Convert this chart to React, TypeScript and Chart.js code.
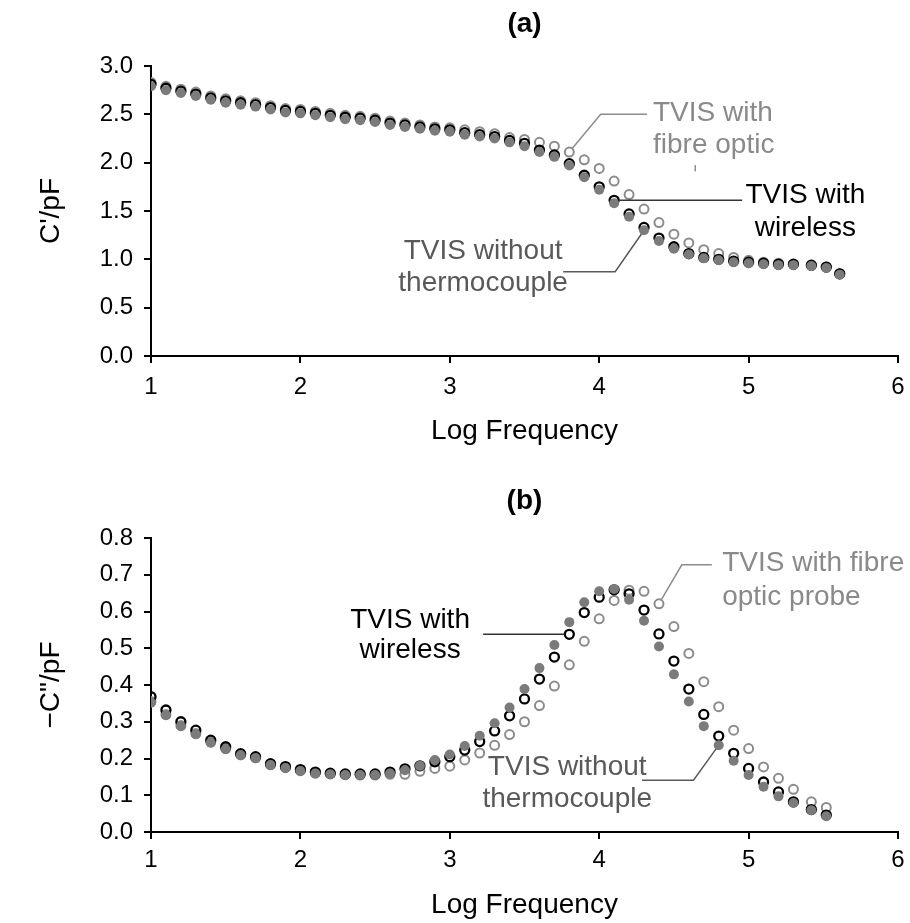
import React, { useEffect, useRef } from 'react';
import { Chart, registerables } from 'chart.js';

Chart.register(...registerables);

const FONT = '"Liberation Sans", Arial, Helvetica, sans-serif';

// ---- (a) real capacitance C' ----
const logFreqA = [
  1.0, 1.1, 1.2, 1.3, 1.4, 1.5, 1.6, 1.7, 1.8, 1.9,
  2.0, 2.1, 2.2, 2.3, 2.4, 2.5, 2.6, 2.7, 2.8, 2.9,
  3.0, 3.1, 3.2, 3.3, 3.4, 3.5, 3.6, 3.7, 3.8, 3.9,
  4.0, 4.1, 4.2, 4.3, 4.4, 4.5, 4.6, 4.7, 4.8, 4.9,
  5.0, 5.1, 5.2, 5.3, 5.42, 5.52, 5.61,
];
const cRealWithout = [
  2.79, 2.75, 2.72, 2.69, 2.65, 2.62, 2.60, 2.58, 2.55, 2.52,
  2.51, 2.49, 2.47, 2.45, 2.44, 2.42, 2.39, 2.37, 2.35, 2.33,
  2.32, 2.29, 2.27, 2.25, 2.21, 2.17, 2.11, 2.06, 1.97, 1.85,
  1.72, 1.58, 1.44, 1.30, 1.19, 1.11, 1.05, 1.01, 0.99, 0.97,
  0.96, 0.95, 0.94, 0.94, 0.93, 0.91, 0.84,
];
const cRealWireless = [
  2.81, 2.77, 2.74, 2.71, 2.67, 2.64, 2.62, 2.60, 2.57, 2.54,
  2.53, 2.51, 2.49, 2.47, 2.46, 2.44, 2.41, 2.39, 2.37, 2.35,
  2.34, 2.31, 2.29, 2.27, 2.23, 2.20, 2.13, 2.08, 1.99, 1.87,
  1.75, 1.61, 1.47, 1.33, 1.22, 1.13, 1.06, 1.02, 1.00, 0.98,
  0.97, 0.96, 0.95, 0.95, 0.94, 0.92, 0.85,
];
const cRealFibre = [
  2.83, 2.79, 2.76, 2.73, 2.69, 2.66, 2.64, 2.62, 2.59, 2.56,
  2.55, 2.53, 2.51, 2.49, 2.48, 2.46, 2.43, 2.41, 2.39, 2.37,
  2.36, 2.34, 2.32, 2.30, 2.26, 2.24, 2.21, 2.17, 2.11, 2.03,
  1.94, 1.81, 1.67, 1.52, 1.38, 1.26, 1.17, 1.10, 1.06, 1.02,
  0.99, 0.97, 0.96, 0.95, 0.94, 0.92, 0.85,
];

// ---- (b) imaginary capacitance -C'' ----
const logFreqB = [
  1.0, 1.1, 1.2, 1.3, 1.4, 1.5, 1.6, 1.7, 1.8, 1.9,
  2.0, 2.1, 2.2, 2.3, 2.4, 2.5, 2.6, 2.7, 2.8, 2.9,
  3.0, 3.1, 3.2, 3.3, 3.4, 3.5, 3.6, 3.7, 3.8, 3.9,
  4.0, 4.1, 4.2, 4.3, 4.4, 4.5, 4.6, 4.7, 4.8, 4.9,
  5.0, 5.1, 5.2, 5.3, 5.42, 5.52,
];
const cImagWithout = [
  0.352, 0.318, 0.288, 0.266, 0.243, 0.225, 0.209, 0.201, 0.182, 0.174,
  0.166, 0.159, 0.157, 0.155, 0.155, 0.155, 0.159, 0.168, 0.180, 0.196,
  0.211, 0.234, 0.262, 0.296, 0.339, 0.389, 0.446, 0.509, 0.571, 0.625,
  0.655, 0.661, 0.632, 0.575, 0.505, 0.429, 0.355, 0.288, 0.236, 0.194,
  0.155, 0.123, 0.097, 0.079, 0.059, 0.043,
];
const cImagWireless = [
  0.368, 0.332, 0.300, 0.277, 0.250, 0.232, 0.213, 0.205, 0.186, 0.178,
  0.170, 0.163, 0.160, 0.158, 0.158, 0.158, 0.163, 0.172, 0.180, 0.191,
  0.205, 0.223, 0.246, 0.275, 0.316, 0.362, 0.416, 0.476, 0.538, 0.597,
  0.639, 0.659, 0.648, 0.604, 0.539, 0.465, 0.389, 0.320, 0.261, 0.214,
  0.173, 0.136, 0.109, 0.082, 0.061, 0.046,
];
const cImagFibre = [
  0.355, 0.320, 0.290, 0.268, 0.245, 0.227, 0.210, 0.202, 0.183, 0.175,
  0.167, 0.160, 0.158, 0.156, 0.155, 0.155, 0.157, 0.157, 0.165, 0.173,
  0.179, 0.196, 0.215, 0.236, 0.265, 0.300, 0.344, 0.397, 0.455, 0.519,
  0.580, 0.630, 0.658, 0.655, 0.621, 0.559, 0.486, 0.409, 0.341, 0.277,
  0.227, 0.177, 0.146, 0.116, 0.082, 0.067,
];

const GREY_DOT = '#7b7b7b';
const GREY_RING = '#8c8c8c';
const GREY_TEXT = '#8a8a8a';
const DARK_TEXT = '#595959';

type Note = {
  lines: string[];
  x: number;
  y: number;
  gap: number;
  align: CanvasTextAlign;
  color: string;
  lineColor: string;
  path: [number, number][];
  target?: [number, number];
};

type PanelCfg = {
  title: string;
  titleY: number;
  yTitle: string;
  yMax: number;
  yStep: number;
  height: number;
  plotTop: number;
  plotBottom: number;
  xTickPad: number;
  xTitlePad: number;
  x: number[];
  without: number[];
  wireless: number[];
  fibre: number[];
  notes: Note[];
};

// Panel heading plus the callout labels and their leader lines.
const panelDecor = {
  id: 'panelDecor',
  afterDatasetsDraw(chart: any, _args: any, opts: any) {
    const { ctx, chartArea, scales } = chart;
    const px = (v: number) => scales.x.getPixelForValue(v);
    const py = (v: number) => scales.y.getPixelForValue(v);
    ctx.save();
    ctx.font = `bold 28px ${FONT}`;
    ctx.fillStyle = '#000';
    ctx.textAlign = 'center';
    ctx.textBaseline = 'middle';
    ctx.fillText(opts.title, (chartArea.left + chartArea.right) / 2, opts.titleY);

    for (const n of opts.notes as Note[]) {
      const pts = n.path.map(([a, b]) => [px(a), py(b)]);
      if (n.target) {
        const tx = px(n.target[0]);
        const ty = py(n.target[1]);
        const [lx, ly] = pts[pts.length - 1];
        const d = Math.hypot(tx - lx, ty - ly) || 1;
        pts.push([tx - ((tx - lx) / d) * 4.5, ty - ((ty - ly) / d) * 4.5]);
      }
      ctx.strokeStyle = n.lineColor;
      ctx.lineWidth = 1.5;
      ctx.beginPath();
      pts.forEach(([a, b], i) => (i ? ctx.lineTo(a, b) : ctx.moveTo(a, b)));
      ctx.stroke();

      ctx.font = `28px ${FONT}`;
      ctx.fillStyle = n.color;
      ctx.textAlign = n.align;
      ctx.textBaseline = 'middle';
      n.lines.forEach((t, i) => ctx.fillText(t, px(n.x), py(n.y) + i * n.gap));
    }
    ctx.restore();
  },
};

const panelA: PanelCfg = {
  title: '(a)',
  titleY: 24,
  yTitle: "C'/pF",
  yMax: 3,
  yStep: 0.5,
  height: 462,
  plotTop: 66,
  plotBottom: 356,
  xTickPad: 10,
  xTitlePad: 14,
  x: logFreqA,
  without: cRealWithout,
  wireless: cRealWireless,
  fibre: cRealFibre,
  notes: [
    {
      lines: ['TVIS with', 'fibre optic'],
      x: 4.36, y: 2.51, gap: 32, align: 'left', color: GREY_TEXT, lineColor: GREY_RING,
      path: [[4.32, 2.50], [4.01, 2.50]],
      target: [logFreqA[28], cRealFibre[28]],
    },
    {
      lines: [],
      x: 4.64, y: 1.95, gap: 0, align: 'left', color: GREY_TEXT, lineColor: GREY_RING,
      path: [[4.643, 1.975], [4.643, 1.91]],
    },
    {
      lines: ['TVIS with', 'wireless'],
      x: 5.38, y: 1.665, gap: 33, align: 'center', color: '#000', lineColor: '#333',
      path: [[4.957, cRealWireless[31]]],
      target: [logFreqA[31], cRealWireless[31]],
    },
    {
      lines: ['TVIS without', 'thermocouple'],
      x: 3.223, y: 1.079, gap: 32, align: 'center', color: DARK_TEXT, lineColor: DARK_TEXT,
      path: [[3.759, 0.872], [4.107, 0.872]],
      target: [logFreqA[33], cRealWithout[33]],
    },
  ],
};

const panelB: PanelCfg = {
  title: '(b)',
  titleY: 39,
  yTitle: '\u2212C"/pF',
  yMax: 0.8,
  yStep: 0.1,
  height: 461,
  plotTop: 76,
  plotBottom: 370,
  xTickPad: 7,
  xTitlePad: 1,
  x: logFreqB,
  without: cImagWithout,
  wireless: cImagWireless,
  fibre: cImagFibre,
  notes: [
    {
      lines: ['TVIS with fibre', 'optic probe'],
      x: 4.823, y: 0.732, gap: 34, align: 'left', color: GREY_TEXT, lineColor: GREY_RING,
      path: [[4.754, 0.727], [4.553, 0.727]],
      target: [logFreqB[34], cImagFibre[34]],
    },
    {
      lines: ['TVIS with', 'wireless'],
      x: 2.734, y: 0.577, gap: 30, align: 'center', color: '#000', lineColor: '#333',
      path: [[3.223, cImagWireless[28]]],
      target: [logFreqB[28], cImagWireless[28]],
    },
    {
      lines: ['TVIS without', 'thermocouple'],
      x: 3.786, y: 0.177, gap: 32, align: 'center', color: DARK_TEXT, lineColor: DARK_TEXT,
      path: [[4.286, 0.141], [4.631, 0.141]],
      target: [logFreqB[38], cImagWithout[38]],
    },
  ],
};

function pairs(xs: number[], ys: number[]) {
  return xs.map((x, i) => ({ x, y: ys[i] }));
}

function axisStyle() {
  return {
    grid: { display: true, drawOnChartArea: false, drawTicks: true, tickLength: 7, color: '#000', lineWidth: 2 },
    border: { display: true, color: '#000', width: 2 },
  };
}

function Panel({ cfg, top }: { cfg: PanelCfg; top: number }) {
  const ref = useRef<HTMLCanvasElement>(null);

  useEffect(() => {
    const chart = new Chart(ref.current as HTMLCanvasElement, {
      type: 'scatter',
      data: {
        datasets: [
          {
            label: 'TVIS without thermocouple',
            data: pairs(cfg.x, cfg.without),
            pointRadius: 5,
            pointBackgroundColor: GREY_DOT,
            pointBorderColor: GREY_DOT,
            pointBorderWidth: 0,
            order: 0,
          },
          {
            label: 'TVIS with wireless',
            data: pairs(cfg.x, cfg.wireless),
            pointRadius: 4.5,
            pointBackgroundColor: 'rgba(0,0,0,0)',
            pointBorderColor: '#000',
            pointBorderWidth: 2.3,
            order: 1,
          },
          {
            label: 'TVIS with fibre optic probe',
            data: pairs(cfg.x, cfg.fibre),
            pointRadius: 4.5,
            pointBackgroundColor: 'rgba(0,0,0,0)',
            pointBorderColor: GREY_RING,
            pointBorderWidth: 2,
            order: 2,
          },
        ],
      },
      options: {
        responsive: false,
        animation: false,
        events: [],
        layout: { padding: { left: 0, right: 12, top: cfg.plotTop, bottom: 0 } },
        plugins: {
          legend: { display: false },
          tooltip: { enabled: false },
          panelDecor: { title: cfg.title, titleY: cfg.titleY, notes: cfg.notes },
        } as any,
        scales: {
          x: {
            type: 'linear',
            min: 1,
            max: 6,
            ...axisStyle(),
            ticks: {
              stepSize: 1,
              color: '#000',
              padding: cfg.xTickPad,
              maxRotation: 0,
              font: { family: FONT, size: 24 },
            },
            title: {
              display: true,
              text: 'Log Frequency',
              color: '#000',
              font: { family: FONT, size: 28 },
              padding: { top: 0, bottom: cfg.xTitlePad },
            },
            afterFit: (s: any) => {
              s.height = cfg.height - cfg.plotBottom;
              // the end labels may overhang; the plot keeps its full width
              s.paddingLeft = 0;
              s.paddingRight = 0;
            },
          },
          y: {
            type: 'linear',
            min: 0,
            max: cfg.yMax,
            ...axisStyle(),
            ticks: {
              stepSize: cfg.yStep,
              color: '#000',
              padding: 11,
              font: { family: FONT, size: 24 },
              callback: (v: any) => Number(v).toFixed(1),
            },
            title: {
              display: true,
              text: cfg.yTitle,
              color: '#000',
              font: { family: FONT, size: 28 },
              padding: { top: 34, bottom: 0 },
            },
            afterFit: (s: any) => {
              s.width = 151;
            },
          },
        },
      } as any,
      plugins: [panelDecor],
    });
    return () => chart.destroy();
  }, [cfg]);

  return (
    <div style={{ position: 'absolute', left: 0, top, width: 910, height: cfg.height }}>
      <canvas ref={ref} width={910} height={cfg.height} style={{ display: 'block', width: 910, height: cfg.height }} />
    </div>
  );
}

export default function App() {
  return (
    <div style={{ position: 'absolute', left: 0, top: 0, width: 910, height: 923, background: '#fff' }}>
      <Panel cfg={panelA} top={0} />
      <Panel cfg={panelB} top={462} />
    </div>
  );
}
